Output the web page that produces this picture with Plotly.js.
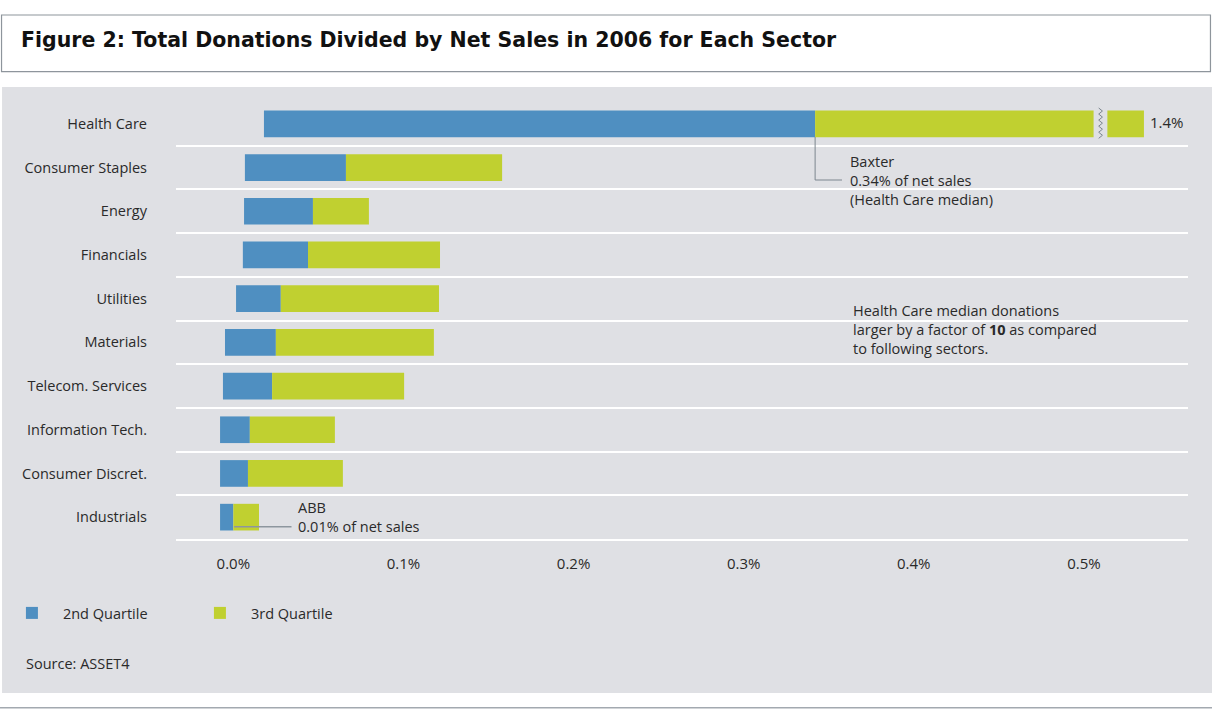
<!DOCTYPE html>
<html><head><meta charset="utf-8">
<script src="https://cdn.plot.ly/plotly-3.0.1.min.js"></script>
<style>html,body{margin:0;padding:0;background:#fff}#chart{width:1212px;height:709px}</style>
</head><body><div id="chart"></div>
<script>
// ---- data (values in % of net sales) ----
const sectors = ["Health Care","Consumer Staples","Energy","Financials","Utilities","Materials","Telecom. Services","Information Tech.","Consumer Discret.","Industrials"];
const q2Low   = [0.018, 0.0068, 0.0063, 0.0056, 0.0016, -0.0049, -0.0061, -0.0078, -0.0078, -0.0078];
const medians = [0.342, 0.0662, 0.0468, 0.0439, 0.0279, 0.025, 0.0228, 0.0097, 0.0086, 0.0];
const q3High  = [1.4, 0.158, 0.0797, 0.1215, 0.1209, 0.1179, 0.1004, 0.0597, 0.0644, 0.0151];
const xTickVals = [0, 0.1, 0.2, 0.3, 0.4, 0.5];
const xTickText = ["0.0%","0.1%","0.2%","0.3%","0.4%","0.5%"];
const seriesNames = ["2nd Quartile","3rd Quartile"];

// ---- style / layout constants ----
const BLUE = "#4f8fc1", GREEN = "#c0d030", PANEL = "#dfe0e4", TXT = "#2a2a2a", LEAD = "#7c868f";
const FONT = "Open Sans, Liberation Sans, sans-serif";
const axisCap = 0.5353;      // broken-axis display end for values beyond the axis
const breakFrom = 0.5057, breakTo = 0.5138, breakMid = 0.5098;

const shown = q3High.map(v => Math.min(v, axisCap));

const traces = [
  { type:"bar", orientation:"h", name:seriesNames[0], y:sectors, base:q2Low,
    x:medians.map((m,i)=>m-q2Low[i]), width:0.61, marker:{color:BLUE}, hoverinfo:"skip" },
  { type:"bar", orientation:"h", name:seriesNames[1], y:sectors, base:medians,
    x:shown.map((s,i)=>s-medians[i]), width:0.61, marker:{color:GREEN}, hoverinfo:"skip" }
];

// zigzag break mark (paper y across the Health Care bar)
let zz = "";
const zN = 10, zTop = 0.9863, zBot = 0.9169;
for (let k=0;k<=zN;k++){
  const yy = zTop - (zTop-zBot)*k/zN;
  const xx = breakMid + (k%2===0 ? -0.0011 : 0.0011);
  zz += (k===0?"M":"L") + xx + "," + yy + " ";
}

const hcIdx = 0, indIdx = sectors.length-1;

const layout = {
  width:1212, height:709,
  paper_bgcolor:"#ffffff", plot_bgcolor:"rgba(0,0,0,0)",
  margin:{l:176, r:24, t:102, b:170, autoexpand:false},
  barmode:"overlay",
  font:{family:FONT, size:14.5, color:TXT},
  title:{text:"Figure 2: Total Donations Divided by Net Sales in 2006 for Each Sector",
    x:21/1212, xanchor:"left", xref:"container", y:1-40/709, yref:"container", yanchor:"middle",
    font:{family:"DejaVu Sans, Open Sans, sans-serif", size:20.5, weight:700, color:"#111111"}},
  xaxis:{range:[-0.0337, 0.5612], tickmode:"array", tickvals:xTickVals, ticktext:xTickText,
    showgrid:false, zeroline:false, showline:true, linecolor:"#ffffff", linewidth:2,
    ticks:"", ticklabelstandoff:10, tickfont:{size:15, color:TXT}, fixedrange:true},
  yaxis:{type:"category", categoryorder:"array", categoryarray:sectors, autorange:"reversed",
    tickson:"boundaries", showgrid:true, gridcolor:"#ffffff", gridwidth:2, ticks:"",
    zeroline:false, showline:false, ticklabelstandoff:28, tickfont:{size:14.5, color:TXT}, fixedrange:true},
  showlegend:true,
  legend:{orientation:"h", x:-0.173, xanchor:"left", y:-0.1693, yanchor:"middle",
    bgcolor:"rgba(0,0,0,0)", font:{size:14.5, color:TXT}, itemwidth:52,
    entrywidth:121, entrywidthmode:"pixels", traceorder:"normal", itemclick:false, itemdoubleclick:false},
  shapes:[
    {type:"rect", xref:"paper", yref:"paper", x0:-0.1719, x1:1.0237, y0:-0.3524, y1:1.0343,
     fillcolor:PANEL, line:{width:0}, layer:"below"},
    {type:"rect", xref:"paper", yref:"paper", x0:-0.1724, x1:1.0222, y0:1.0693, y1:1.1991,
     fillcolor:"#ffffff", line:{color:"#8e959c", width:1.2}, layer:"below"},
    {type:"line", xref:"paper", yref:"paper", x0:-0.1739, x1:1.0237, y0:-0.386, y1:-0.386,
     line:{color:"#a3a9b0", width:1.5}},
    {type:"rect", xref:"x", yref:"paper", x0:breakFrom, x1:breakTo, y0:0.9100, y1:0.9990,
     fillcolor:PANEL, line:{width:0}, layer:"above"},
    {type:"path", xref:"x", yref:"paper", path:zz, line:{color:LEAD, width:1}},
    // Baxter leader
    {type:"path", xref:"x", yref:"paper",
     path:"M"+medians[hcIdx]+",0.9199 L"+medians[hcIdx]+",0.8215 L0.3578,0.8215",
     line:{color:LEAD, width:1}},
    // ABB leader
    {type:"line", xref:"x", yref:"paper", x0:medians[indIdx]+0.0005, x1:0.0342, y0:0.0281, y1:0.0281,
     line:{color:"#8d969e", width:1.5}}
  ],
  annotations:[
    {xref:"x", yref:"paper", x:axisCap, y:0.9542, xanchor:"left", yanchor:"middle", xshift:4,
     text:q3High[hcIdx].toFixed(1)+"%", showarrow:false, font:{size:15}},
    {xref:"x", yref:"paper", x:0.3616, y:0.8215, xanchor:"left", yanchor:"middle", align:"left",
     text:"Baxter<br>"+medians[hcIdx].toFixed(2)+"% of net sales<br>(Health Care median)", showarrow:false},
    {xref:"x", yref:"paper", x:0.3629, y:0.4805, xanchor:"left", yanchor:"middle", align:"left",
     text:"Health Care median donations<br>larger by a factor of <b>10</b> as compared<br>to following sectors.", showarrow:false},
    {xref:"x", yref:"paper", x:0.0368, y:0.0497, xanchor:"left", yanchor:"middle", align:"left",
     text:"ABB<br>0.01% of net sales", showarrow:false},
    {xref:"paper", yref:"paper", x:-0.1505, y:-0.286, xanchor:"left", yanchor:"middle",
     text:"Source: ASSET4", showarrow:false}
  ]
};

Plotly.newPlot("chart", traces, layout, {displayModeBar:false, staticPlot:true});
</script>
</body></html>
